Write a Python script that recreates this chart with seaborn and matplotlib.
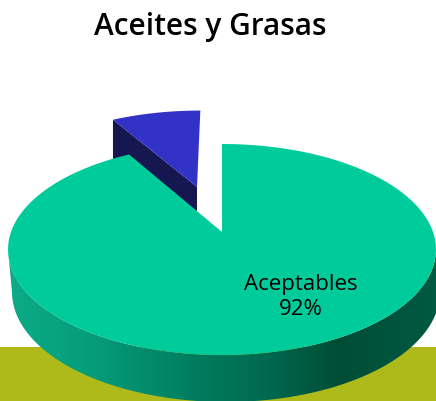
import numpy as np
import matplotlib
matplotlib.use("Agg")
import matplotlib.pyplot as plt
from matplotlib.path import Path
from matplotlib.patches import PathPatch
import seaborn as sns

# data
categories = ["Aceptables", "Otros"]
shares = [91.6, 8.4]
title_text = "Aceites y Grasas"
slice_colors = ["#00CC9B", "#3232C6"]
side_color = "#161650"
ground_color = "#AEBA1A"
wall_colors = ["#0AAB86", "#059A78", "#007A5C", "#006A50", "#004D36", "#005A42"]
wall_stops = [0.03, 0.23, 0.46, 0.60, 0.77, 1.0]

sns.set_theme(style="white")
plt.rcParams["font.family"] = ["Open Sans", "DejaVu Sans"]

fig = plt.figure(figsize=(4.36, 4.01), dpi=100)
ax = fig.add_axes([0, 0, 1, 1])
W, H = 436, 401

# perspective disc: unit circle (u, v) -> picture scale
CX, CY, A, B, K = 222.0, 232.0, 102.6, 211.0, 0.166
def project(u, v):
    w = 1 + K * np.asarray(v)
    return CX + B * np.asarray(u) / w, CY - A * np.asarray(v) / w

fractions = np.array(shares, dtype=float) / sum(shares)
START = 0.0   # clockwise from twelve o'clock
EXPLODE = 0.49

def sector(t0, t1, n=240, offset=0.0):
    mid = (t0 + t1) / 2
    ou, ov = offset * np.sin(mid), offset * np.cos(mid)
    t = np.linspace(t0, t1, n)
    u = np.r_[ou, ou + np.sin(t)]
    v = np.r_[ov, ov + np.cos(t)]
    return project(u, v)

# ground band
ax.axhspan(347, H, color=ground_color, lw=0, zorder=1)

# wall: front of the upper rim + lower rim
t = np.linspace(0, 2 * np.pi, 720)
rx, ry = project(np.sin(t), np.cos(t))
keep = ry >= 250
order = np.argsort(rx[keep])
top_x, top_y = rx[keep][order], ry[keep][order]
bt = np.linspace(np.pi, 0, 360)
bot_x = 226 + 214 * np.cos(bt)
bot_y = 292 + 110 * np.sin(bt)
wall_xy = np.c_[np.r_[top_x, bot_x[::-1]], np.r_[top_y, bot_y[::-1]]]
wall_cmap = sns.blend_palette(wall_colors, n_colors=256, as_cmap=True)
samples = np.interp(np.linspace(0, 1, 256), wall_stops, np.linspace(0, 1, len(wall_stops)))
img = ax.imshow(samples[None, :], extent=(0, 440, H, 240), aspect="auto",
                cmap=wall_cmap, vmin=0, vmax=1, zorder=2)
clip = PathPatch(Path(wall_xy), transform=ax.transData, fc="none", ec="none")
ax.add_patch(clip)
img.set_clip_path(clip)

# teal slice
t0 = START
t1 = t0 + 2 * np.pi * fractions[0]
x, y = sector(t0, t1)
ax.fill(x, y, color=slice_colors[0], lw=0, zorder=4)

# exploded slice: cut face, then top
t2 = t1 + 2 * np.pi * fractions[1]
x, y = sector(t1, t2, offset=EXPLODE)
DEPTH_NEAR, DEPTH_FAR = 24, 44
fx = [x[1], x[0], x[0], x[1]]
fy = [y[1], y[0], y[0] + DEPTH_NEAR, y[1] + DEPTH_FAR]
ax.fill(fx, fy, color=side_color, lw=0, zorder=3)
ax.fill(x, y, color=slice_colors[1], lw=0, zorder=3.5)

ax.text(210, 27, title_text, ha="center", va="center", fontsize=21.5,
        fontweight="semibold", color="black", zorder=6)
ax.text(301, 297, f"{categories[0]}\n{round(shares[0])}%", ha="center", va="center",
        fontsize=16, color="black", linespacing=1.22, zorder=6)

ax.set_xlim(0, W)
ax.set_ylim(H, 0)
ax.axis("off")
fig.savefig("out.png", dpi=100, facecolor="white")
